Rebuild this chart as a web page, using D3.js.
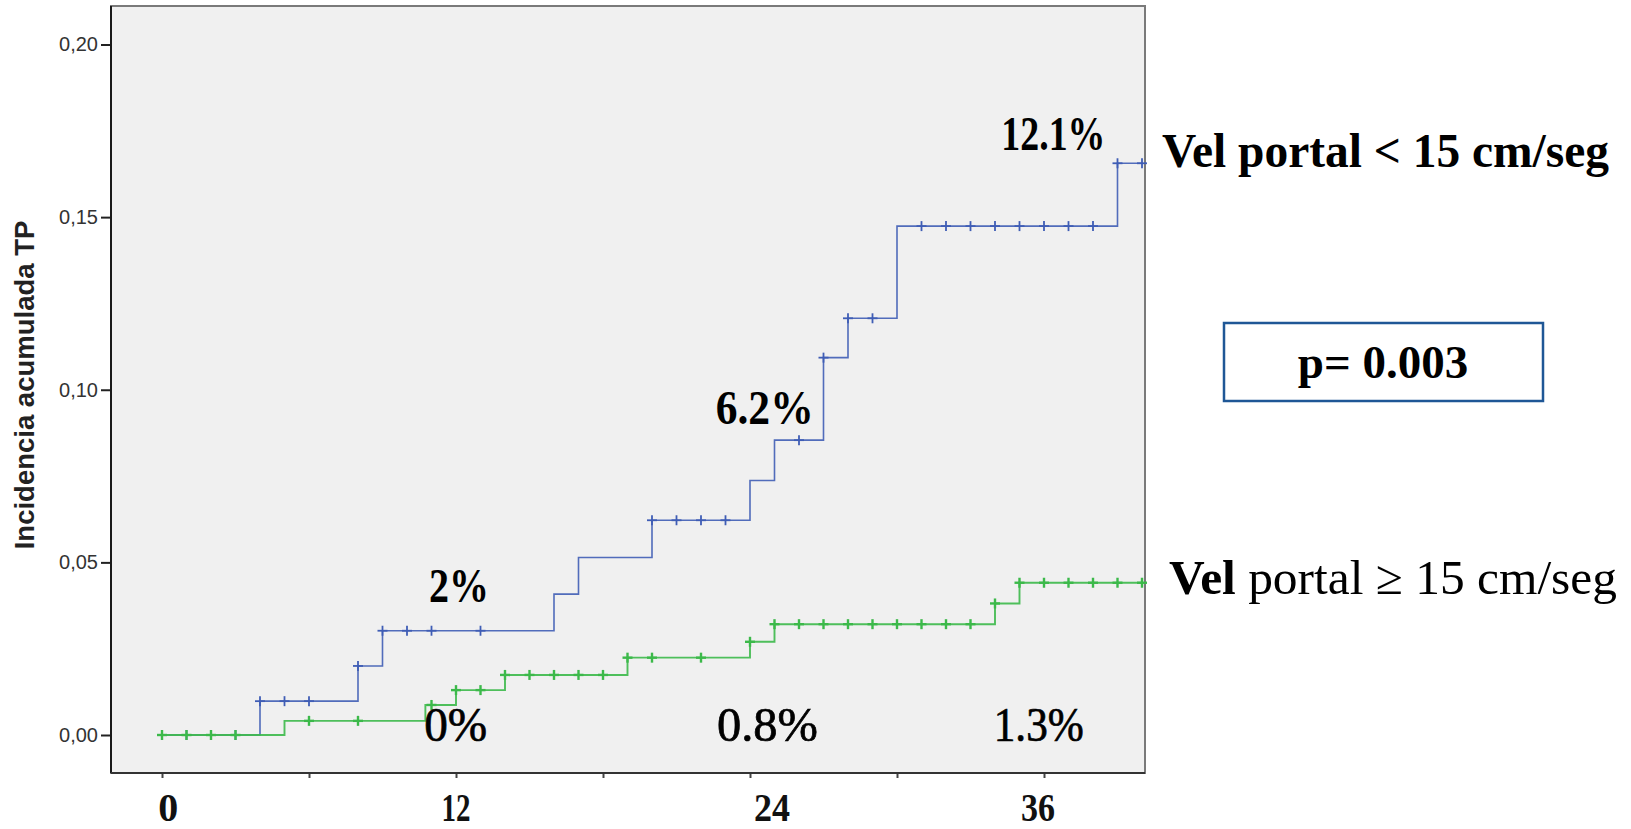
<!DOCTYPE html>
<html>
<head>
<meta charset="utf-8">
<script src="https://cdn.jsdelivr.net/npm/d3@7"></script>
<style>
  html, body { margin: 0; padding: 0; background: #ffffff; }
  svg { display: block; }
</style>
</head>
<body>
<svg id="chart" width="1631" height="829"></svg>
<script>
// Cumulative incidence of portal thrombosis (TP) by portal vein velocity group.
// Step curves: time (months) at which each step starts, and the level reached.
const blueTimes  = [0, 4, 8, 9, 16, 17, 20, 24, 25, 27, 28, 30, 39, 40];
const blueLevels = [0, 0.0098, 0.020, 0.0302, 0.0408, 0.0514, 0.0622, 0.0737, 0.0854, 0.1093, 0.1207, 0.1474, 0.1656, 0.1656];
const greenTimes  = [0, 5, 10.75, 12, 14, 19, 24, 25, 34, 35, 40];
const greenLevels = [0, 0.0041, 0.0087, 0.0130, 0.0174, 0.0224, 0.0270, 0.0321, 0.0381, 0.0441, 0.0441];

// Censored observations (months)
const blueCensored  = [0, 1, 2, 3, 4, 5, 6, 8, 9, 10, 11, 13, 20, 21, 22, 23, 26, 27, 28, 29, 31, 32, 33, 34, 35, 36, 37, 38, 39, 40];
const greenCensored = [0, 1, 2, 3, 6, 8, 11, 12, 13, 14, 15, 16, 17, 18, 19, 20, 22, 24, 25, 26, 27, 28, 29, 30, 31, 32, 33, 34, 35, 36, 37, 38, 39, 40];

// Axis ticks and labels
const yTicks = [0, 0.05, 0.10, 0.15, 0.20];
const xTicks = [0, 6, 12, 18, 24, 30, 36];
const xLabels = ["0", "12", "24", "36"];
const xLabelAt = [0.25, 12, 24.9, 35.75];
const xLabelWidth = [20, 29, 36, 34];

// Percent annotations: text, month, level of baseline, weight, width
const noteText   = ["12.1%", "6.2%", "2%", "0%", "0.8%", "1.3%"];
const noteMonth  = [34.26, 22.6, 10.9, 10.7, 22.65, 33.95];
const noteLevel  = [0.1695, 0.0901, 0.0385, -0.0017, -0.0017, -0.0017];
const noteWeight = ["bold", "bold", "bold", "normal", "normal", "normal"];
const noteWidth  = [104, 98, 60, 63, 101, 90];

const svg = d3.select("#chart");

const plot = { left: 111, right: 1145, top: 6, bottom: 773 };

const x = d3.scaleLinear().domain([0, 36]).range([162, 1044]);
const y = d3.scaleLinear().domain([0, 0.20]).range([735, 44.5]);

// Plot background and frame
svg.append("rect")
  .attr("x", plot.left).attr("y", plot.top)
  .attr("width", plot.right - plot.left).attr("height", plot.bottom - plot.top)
  .attr("fill", "#f0f0f0")
  .attr("stroke", "#7a7a7a").attr("stroke-width", 2);

// Y axis
const yAxis = d3.axisLeft(y)
  .tickValues(yTicks)
  .tickSize(10)
  .tickPadding(3)
  .tickFormat(d => d3.format(".2f")(d).replace(".", ","));
const gy = svg.append("g").attr("transform", `translate(${plot.left},0)`).call(yAxis);
gy.select(".domain").remove();
gy.selectAll(".tick line").attr("stroke", "#222").attr("stroke-width", 2);
gy.selectAll(".tick text")
  .attr("fill", "#333")
  .style("font-family", "'Liberation Sans', Arial, sans-serif")
  .style("font-size", "20px");

// X axis (ticks only; labels are placed separately)
const xAxis = d3.axisBottom(x).tickValues(xTicks).tickSize(5).tickFormat("");
const gx = svg.append("g").attr("transform", `translate(0,${plot.bottom})`).call(xAxis);
gx.select(".domain").remove();
gx.selectAll(".tick line").attr("stroke", "#444").attr("stroke-width", 2);

// Left and bottom frame lines
svg.append("line")
  .attr("x1", plot.left).attr("x2", plot.left)
  .attr("y1", plot.top).attr("y2", plot.bottom)
  .attr("stroke", "#1a1a1a").attr("stroke-width", 2);
svg.append("line")
  .attr("x1", plot.left).attr("x2", plot.right)
  .attr("y1", plot.bottom).attr("y2", plot.bottom)
  .attr("stroke", "#333").attr("stroke-width", 2);

// X tick labels
svg.append("g").selectAll("text")
  .data(xLabels)
  .join("text")
  .attr("x", (d, i) => x(xLabelAt[i]) - xLabelWidth[i] / 2)
  .attr("y", 821)
  .attr("textLength", (d, i) => xLabelWidth[i])
  .attr("lengthAdjust", "spacingAndGlyphs")
  .attr("fill", "#111")
  .style("font-family", "'Liberation Serif', 'Times New Roman', serif")
  .style("font-weight", "bold")
  .style("font-size", "39px")
  .text(d => d);

// Y axis title
svg.append("text")
  .attr("transform", "translate(34,385) rotate(-90)")
  .attr("text-anchor", "middle")
  .attr("fill", "#222")
  .style("font-family", "'Liberation Sans', Arial, sans-serif")
  .style("font-weight", "bold")
  .style("font-size", "27.5px")
  .text("Incidencia acumulada TP");

// Step curves
function series(times, levels) {
  return times.map((t, i) => ({ t, v: levels[i] }));
}
function levelAt(times, levels, t) {
  let v = levels[0];
  for (let i = 0; i < times.length; i++) if (times[i] <= t) v = levels[i];
  return v;
}
const line = d3.line().x(d => x(d.t)).y(d => y(d.v)).curve(d3.curveStepAfter);

const groups = [
  { times: blueTimes, levels: blueLevels, censored: blueCensored, color: "#3f5db5", width: 1.6, cross: 5, crossW: 1.8 },
  { times: greenTimes, levels: greenLevels, censored: greenCensored, color: "#3cb94a", width: 1.9, cross: 5, crossW: 2.4 }
];

groups.forEach(g => {
  svg.append("path")
    .datum(series(g.times, g.levels))
    .attr("d", line)
    .attr("fill", "none")
    .attr("stroke", g.color)
    .attr("stroke-width", g.width)
    .attr("opacity", 0.9);

  const marks = svg.append("g").attr("stroke", g.color).attr("stroke-width", g.crossW);
  const pts = g.censored.map(t => ({ t, v: levelAt(g.times, g.levels, t) }));
  marks.selectAll("line.v").data(pts).join("line").attr("class", "v")
    .attr("x1", d => x(d.t)).attr("x2", d => x(d.t))
    .attr("y1", d => y(d.v) - g.cross).attr("y2", d => y(d.v) + g.cross);
  marks.selectAll("line.h").data(pts).join("line").attr("class", "h")
    .attr("x1", d => x(d.t) - g.cross).attr("x2", d => x(d.t) + g.cross)
    .attr("y1", d => y(d.v)).attr("y2", d => y(d.v));
});

// Percent annotations
svg.append("g").selectAll("text")
  .data(noteText)
  .join("text")
  .attr("x", (d, i) => x(noteMonth[i]))
  .attr("y", (d, i) => y(noteLevel[i]))
  .attr("textLength", (d, i) => noteWidth[i])
  .attr("lengthAdjust", "spacingAndGlyphs")
  .attr("fill", "#000")
  .attr("stroke", (d, i) => noteWeight[i] === "normal" ? "#000" : "none")
  .attr("stroke-width", 0.7)
  .style("font-family", "'Liberation Serif', 'Times New Roman', serif")
  .style("font-weight", (d, i) => noteWeight[i])
  .style("font-size", "48px")
  .text(d => d);

// Group labels
svg.append("text")
  .attr("x", 1162).attr("y", 167)
  .attr("textLength", 447)
  .attr("lengthAdjust", "spacingAndGlyphs")
  .attr("fill", "#000")
  .style("font-family", "'Liberation Serif', 'Times New Roman', serif")
  .style("font-weight", "bold")
  .style("font-size", "48px")
  .text("Vel portal < 15 cm/seg");

const lbl2 = svg.append("text")
  .attr("x", 1169).attr("y", 594)
  .attr("textLength", 448)
  .attr("lengthAdjust", "spacingAndGlyphs")
  .attr("fill", "#000")
  .style("font-family", "'Liberation Serif', 'Times New Roman', serif")
  .style("font-size", "49px");
lbl2.append("tspan").style("font-weight", "bold").text("Vel");
lbl2.append("tspan").text(" portal \u2265 15 cm/seg");

// Log-rank p value box
svg.append("rect")
  .attr("x", 1224).attr("y", 323)
  .attr("width", 319).attr("height", 78)
  .attr("fill", "#ffffff")
  .attr("stroke", "#1f5796").attr("stroke-width", 2.5);
svg.append("text")
  .attr("x", 1383).attr("y", 378)
  .attr("text-anchor", "middle")
  .attr("fill", "#000")
  .style("font-family", "'Liberation Serif', 'Times New Roman', serif")
  .style("font-weight", "bold")
  .style("font-size", "47px")
  .text("p= 0.003");
</script>
</body>
</html>
